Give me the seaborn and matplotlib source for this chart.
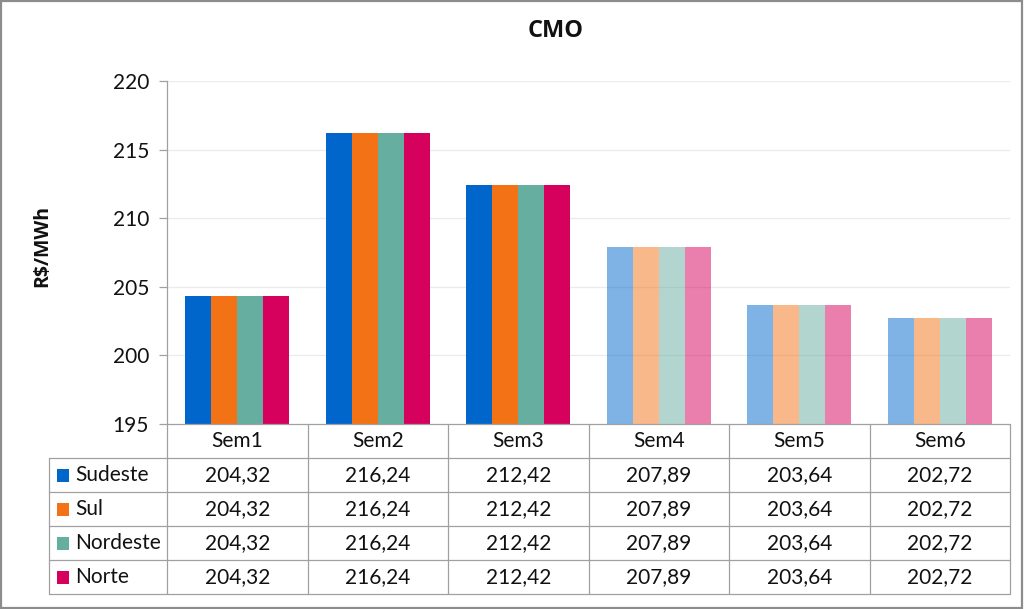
import matplotlib
matplotlib.use("Agg")
import matplotlib.pyplot as plt
import seaborn as sns
import pandas as pd
from matplotlib.patches import Rectangle
from matplotlib.lines import Line2D

weeks = ["Sem1", "Sem2", "Sem3", "Sem4", "Sem5", "Sem6"]
regions = ["Sudeste", "Sul", "Nordeste", "Norte"]
sudeste = [204.32, 216.24, 212.42, 207.89, 203.64, 202.72]
sul = [204.32, 216.24, 212.42, 207.89, 203.64, 202.72]
nordeste = [204.32, 216.24, 212.42, 207.89, 203.64, 202.72]
norte = [204.32, 216.24, 212.42, 207.89, 203.64, 202.72]
colors = ["#0066CC", "#F47216", "#66AFA0", "#D6005D"]
y_ticks = [195, 200, 205, 210, 215, 220]

series = {"Sudeste": sudeste, "Sul": sul, "Nordeste": nordeste, "Norte": norte}
rows = []
for r in regions:
    for w, v in zip(weeks, series[r]):
        rows.append({"Semana": w, "Região": r, "CMO": v})
df = pd.DataFrame(rows)

sns.set_theme(style="white")
plt.rcParams["font.family"] = ["Lato", "DejaVu Sans"]
bold_family = ["Open Sans", "DejaVu Sans"]

W, H = 1024, 609
fig = plt.figure(figsize=(W / 100, H / 100), dpi=100)
L, R, T, B = 167, 1010, 81, 424
ax = fig.add_axes([L / W, 1 - B / H, (R - L) / W, (B - T) / H])

sns.barplot(data=df, x="Semana", y="CMO", hue="Região", order=weeks,
            hue_order=regions, palette=colors, width=0.74, ax=ax,
            legend=False, saturation=1, edgecolor="none", linewidth=0)
for cont in ax.containers:
    for i, bar in enumerate(cont):
        if i >= 3:
            bar.set_alpha(0.5)

ax.set_ylim(195, 220)
ax.set_xlim(-0.5, len(weeks) - 0.5)
ax.set_yticks(y_ticks)
ax.set_yticklabels([str(t) for t in y_ticks], fontsize=15, color="#111111")
ax.set_xticks([])
ax.set_xlabel("")
ax.set_ylabel("R$/MWh", fontsize=14, fontweight="bold", color="#111111",
              family=bold_family)
ax.yaxis.set_label_coords((52 - L) / (R - L), (B - 246) / (B - T))
for t in y_ticks[1:]:
    ax.axhline(t, color="#EBEBEB", lw=0.9, zorder=0)
for s in ["top", "right", "bottom"]:
    ax.spines[s].set_visible(False)
ax.spines["left"].set_color("#A0A0A0")
ax.spines["left"].set_linewidth(0.9)
ax.tick_params(axis="y", which="both", left=True, length=6, width=0.9,
               color="#A0A0A0", pad=7)

fig.text(556 / W, 1 - 31 / H, "CMO", ha="center", va="center",
         fontsize=17, fontweight="bold", color="#111111", family=bold_family)

# data table
gray = "#A0A0A0"
row_h = 34
LC = 49
col_w = (R - L) / len(weeks)


def fx(px):
    return px / W


def fy(py):
    return 1 - py / H


def hline(x0, x1, y):
    fig.add_artist(Line2D([fx(x0), fx(x1)], [fy(y), fy(y)], color=gray, lw=0.9))


def vline(x, y0, y1):
    fig.add_artist(Line2D([fx(x), fx(x)], [fy(y0), fy(y1)], color=gray, lw=0.9))


top = B
bottom = B + row_h * (len(regions) + 1)
hline(L, R, top)
for k in range(1, len(regions) + 2):
    hline(LC, R, top + k * row_h)
vline(LC, top + row_h, bottom)
for j in range(len(weeks) + 1):
    vline(L + j * col_w, top, bottom)

for j, w in enumerate(weeks):
    fig.text(fx(L + (j + 0.5) * col_w), fy(top + row_h / 2), w, ha="center",
             va="center", fontsize=15, color="#111111")

for i, r in enumerate(regions):
    yc = top + (i + 1.5) * row_h
    fig.add_artist(Rectangle((fx(57), fy(yc + 6.5)), 12 / W, 13 / H,
                             facecolor=colors[i], edgecolor="none"))
    fig.text(fx(75), fy(yc), r, ha="left", va="center", fontsize=15,
             color="#111111")
    for j, v in enumerate(series[r]):
        fig.text(fx(L + (j + 0.5) * col_w), fy(yc), f"{v:.2f}".replace(".", ","),
                 ha="center", va="center", fontsize=15, color="#111111")

# figure border
fig.add_artist(Rectangle((0.001, 0.002), 0.997, 0.996, transform=fig.transFigure,
                         fill=False, edgecolor="#8C8C8C", lw=1.6))

fig.savefig("out.png", dpi=100)
